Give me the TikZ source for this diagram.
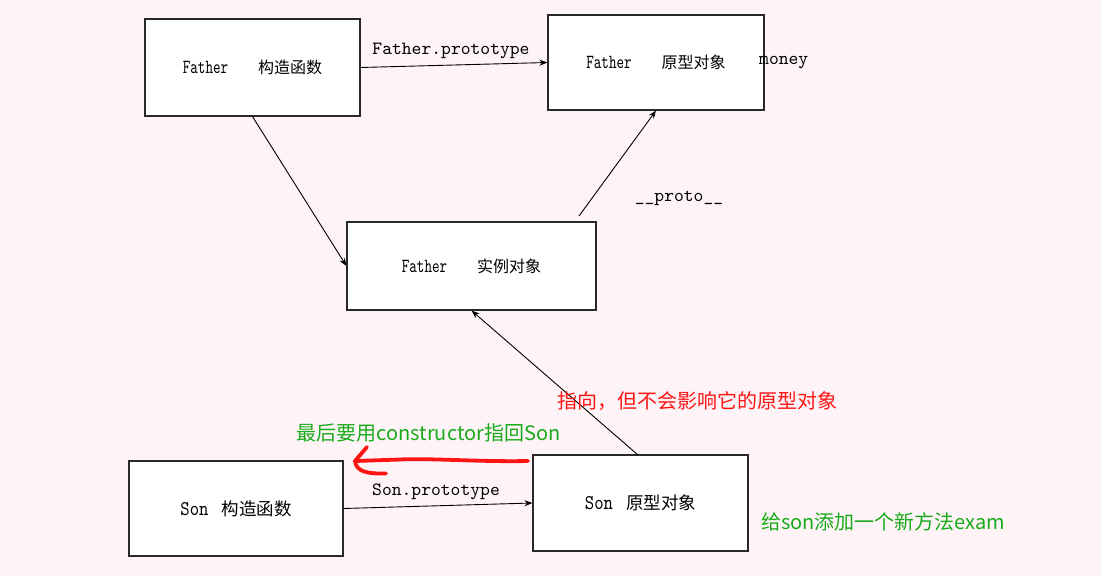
\documentclass[tikz,border=0pt]{standalone}
\usepackage{fontspec}
\newfontfamily\cjk{Noto Sans CJK SC}
\newfontfamily\lblmono[Extension=.otf]{lmmono10-regular}
\newfontfamily\boxmono[Extension=.otf, FakeStretch=0.72]{lmmono10-regular}
\newfontfamily\sonmono[Extension=.otf, FakeStretch=0.85]{lmmono10-regular}
\usetikzlibrary{arrows.meta}
\definecolor{bgpink}{RGB}{254,244,247}
\definecolor{redtxt}{RGB}{255,20,20}
\definecolor{greentxt}{RGB}{25,170,25}
\definecolor{boxline}{RGB}{40,40,40}
\tikzset{
  box/.style={draw=boxline, line width=1.1pt, fill=white, inner sep=0pt},
  link/.style={draw=black, line width=0.9pt, -{Stealth[length=8pt,width=6pt]}},
  monolabel/.style={font=\lblmono\fontsize{18.7}{20}\selectfont, inner sep=0pt},
  redstroke/.style={draw=redtxt, line width=3.8pt, line cap=round, line join=round},
  note/.style={inner sep=0pt, font=\cjk\fontsize{20}{23}\selectfont}
}
\newcommand{\boxtxt}[2]{{\boxmono\fontsize{20}{22}\selectfont #1}\hspace{30pt}{\cjk\fontsize{16}{18}\selectfont #2}}
\newcommand{\sontxt}[2]{{\sonmono\fontsize{21}{23}\selectfont #1}\hspace{13pt}{\cjk\fontsize{17.5}{20}\selectfont #2}}
\begin{document}
\begin{tikzpicture}[x=1pt,y=-1pt]
\fill[bgpink] (0,0) rectangle (1102,576);
\useasboundingbox (0,0) rectangle (1102,576);

\node[box, minimum width=215, minimum height=97] (A) at (252.5,67.5) {\boxtxt{Father}{构造函数}};
\node[box, minimum width=216, minimum height=95] (B) at (656,62.5) {\boxtxt{Father}{原型对象}};
\node[box, minimum width=249, minimum height=88] (C) at (471.5,266) {\boxtxt{Father}{实例对象}};
\node[box, minimum width=214, minimum height=95] (D) at (236,508.5) {\sontxt{Son}{构造函数}};
\node[box, minimum width=215, minimum height=96] (E) at (640.5,503) {\sontxt{Son}{原型对象}};

\coordinate (Cstart) at (579,216);
\coordinate (Estart) at (638,455);

\draw[link] (A.east) -- (B.west);
\draw[link] (A.south) -- (C.west);
\draw[link] (Cstart) -- (B.south);
\draw[link] (Estart) -- (C.south);
\draw[link] (D.east) -- (E.west);

\node[monolabel] (lfp) at (451,50.5) {Father.prototype};
\node[monolabel] (lsp) at (436,492) {Son.prototype};
\node[monolabel] (lproto) at (679,198) {\_\_proto\_\_};
\node[monolabel, anchor=west] (lmoney) at (759,63) {money};

% red hand-drawn arrow
\coordinate (R0) at (528,461);
\coordinate (R1) at (400,459.5);
\coordinate (Rtip) at (355,461);
\coordinate (Rup) at (367,447);
\coordinate (Rlow) at (386,473.5);
\draw[redstroke] (R0) .. controls (480,462) and (430,458) .. (R1) -- (Rtip);
\draw[redstroke] (Rup) -- (Rtip) .. controls (356,471) and (366,474) .. (Rlow);

\node[note, text=redtxt] (tred) at (697.5,401) {指向，但不会影响它的原型对象};
\node[note, text=greentxt] (tg1) at (428.5,433) {最后要用constructor指回Son};
\node[note, text=greentxt, anchor=west] (tg2) at (761,522) {给son添加一个新方法exam};
\end{tikzpicture}
\end{document}
